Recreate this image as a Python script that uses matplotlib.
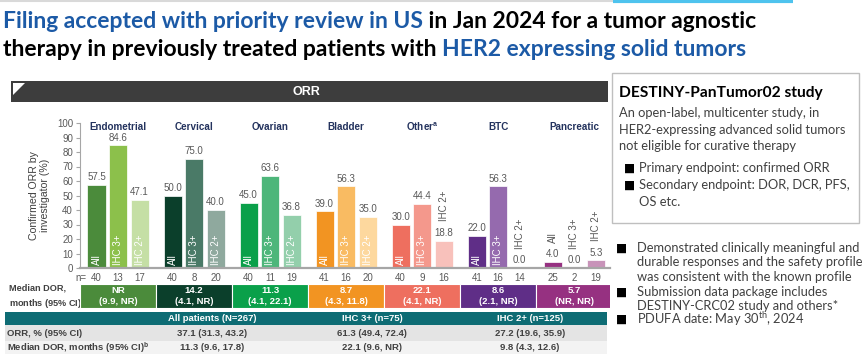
import matplotlib
matplotlib.use("Agg")
import matplotlib.pyplot as plt
from matplotlib.patches import Rectangle, Polygon

# ---------------- data ----------------
tumors = ["Endometrial", "Cervical", "Ovarian", "Bladder", r"Other$^{\mathregular{a}}$", "BTC", "Pancreatic"]
orr_all = [57.5, 50.0, 45.0, 39.0, 30.0, 22.0, 4.0]
orr_ihc3 = [84.6, 75.0, 63.6, 56.3, 44.4, 56.3, 0.0]
orr_ihc2 = [47.1, 40.0, 36.8, 35.0, 18.8, 0.0, 5.3]
n_all = [40, 40, 40, 41, 40, 41, 25]
n_ihc3 = [13, 8, 11, 16, 9, 16, 2]
n_ihc2 = [17, 20, 19, 20, 16, 14, 19]
subgroups = ["All", "IHC 3+", "IHC 2+"]
dor_median = ["NR", "14.2", "11.3", "8.7", "22.1", "8.6", "5.7"]
dor_ci = ["(9.9, NR)", "(4.1, NR)", "(4.1, 22.1)", "(4.3, 11.8)", "(4.1, NR)", "(2.1, NR)", "(NR, NR)"]
yticks = [0, 10, 20, 30, 40, 50, 60, 70, 80, 90, 100]

table_cols = ["All patients (N=267)", "IHC 3+ (n=75)", "IHC 2+ (n=125)"]
table_rows = ["ORR, % (95% CI)", r"Median DOR, months (95% CI)$^{\mathregular{b}}$"]
table_orr = ["37.1 (31.3, 43.2)", "61.3 (49.4, 72.4)", "27.2 (19.6, 35.9)"]
table_dor = ["11.3 (9.6, 17.8)", "22.1 (9.6, NR)", "9.8 (4.3, 12.6)"]

colors_all = ["#4b8b3b", "#0b3f2b", "#0aa04a", "#f29422", "#ee6f5f", "#5f2e87", "#963181"]
colors_ihc3 = ["#8cc04b", "#4a7a67", "#4db67a", "#f9bb62", "#f4988c", "#956aae", "#b870a6"]
colors_ihc2 = ["#c5dfa5", "#8fa99e", "#93cfab", "#fdd89e", "#f8c1bb", "#c9b3d6", "#c893b9"]

W, H = 865, 354
fig = plt.figure(figsize=(W / 100, H / 100), dpi=100)

def fx(x):
    return x / W

def fy(y):
    return 1 - y / H

# overlay axes in pixel coords
ov = fig.add_axes([0, 0, 1, 1])
ov.set_xlim(0, W)
ov.set_ylim(H, 0)
ov.axis("off")
ov.patch.set_alpha(0)

# top line
ov.plot([0, 613], [0.8, 0.8], color="#d9d9d9", lw=1.5, solid_capstyle="butt")
ov.plot([613, 793], [0.8, 0.8], color="#4ec3ee", lw=3, solid_capstyle="butt")

# title with colored segments, sized to fit the reference width
BLUE = "#1c5aa6"
title_lines = [
    [("Filing accepted with priority review in US", BLUE), (" in Jan 2024 for a tumor agnostic", "black")],
    [("therapy in previously treated patients with ", "black"), ("HER2 expressing solid tumors", BLUE)],
]
fig.canvas.draw()
renderer = fig.canvas.get_renderer()
probe = ov.text(0, 0, "".join(s for s, _ in title_lines[0]), fontsize=14, fontweight="bold",
                family="Lato")
pw = probe.get_window_extent(renderer=renderer).width
probe.remove()
tsize = 14 * 759 / pw
for segs, ybase in zip(title_lines, [28, 56]):
    x = 3
    for txt, col in segs:
        t = ov.text(x, ybase, txt, color=col, fontsize=tsize, fontweight="bold",
                    family="Lato", va="baseline", ha="left")
        bb = t.get_window_extent(renderer=renderer)
        x += bb.width

# ORR header bar
ov.add_patch(Rectangle((11, 81), 597, 21, color="#3d3d3d", lw=0))
ov.add_patch(Polygon([(13, 83), (25, 83), (13, 95)], closed=True, color="white", lw=0))
ov.text(306, 92, "ORR", color="white", fontsize=9, fontweight="bold",
        family="Liberation Sans", ha="center", va="center")

# ---------------- main bar chart ----------------
ax = fig.add_axes([fx(80), fy(268), fx(530), 145 / H])
ax.set_xlim(-0.5, 6.47)
ax.set_ylim(0, 100)
off = 0.283
bw = 0.237
GRAY = "#595959"
FONT = "Liberation Sans"
FS = 7
for i in range(len(tumors)):
    vals = [orr_all[i], orr_ihc3[i], orr_ihc2[i]]
    cols = [colors_all[i], colors_ihc3[i], colors_ihc2[i]]
    for j, (v, c) in enumerate(zip(vals, cols)):
        xc = i + (j - 1) * off
        ax.bar(xc, v, width=bw, color=c, edgecolor="white", linewidth=0.5)
        ax.annotate(f"{v:.1f}", (xc, v), xytext=(0, 2), textcoords="offset points",
                    ha="center", va="bottom", fontsize=FS, color=GRAY, family=FONT)
        if v >= 20:
            ax.annotate(subgroups[j], (xc, 0), xytext=(0, 2), textcoords="offset points",
                        ha="center", va="bottom", rotation=90, fontsize=FS,
                        color="white", family=FONT)
        else:
            ax.annotate(subgroups[j], (xc, v), xytext=(0, 14), textcoords="offset points",
                        ha="center", va="bottom", rotation=90, fontsize=FS,
                        color=GRAY, family=FONT)
    ax.text(i, 97.2, tumors[i], ha="center", va="center", fontsize=7.1,
            fontweight="bold", color="#24335e", family=FONT)

ax.set_yticks(yticks)
ax.set_yticklabels([str(t) for t in yticks], fontsize=FS, color=GRAY, family=FONT)
ax.set_xticks([])
for s in ["top", "right"]:
    ax.spines[s].set_visible(False)
ax.spines["left"].set_color("#a6a6a6")
ax.spines["left"].set_linewidth(0.8)
ax.spines["bottom"].set_color("#a6a6a6")
ax.spines["bottom"].set_linewidth(1.6)
ax.tick_params(axis="y", length=3, width=0.8, color="#a6a6a6", pad=2)
ax.patch.set_alpha(0)
ax.set_ylabel("Confirmed ORR by\ninvestigator (%)", fontsize=7.6, color="#404040",
              family=FONT, labelpad=5, linespacing=1.1)

# n= row
for i in range(len(tumors)):
    for j, nv in enumerate([n_all[i], n_ihc3[i], n_ihc2[i]]):
        xc = i + (j - 1) * off
        ax.annotate(str(nv), (xc, 0), xytext=(0, -7.5), textcoords="offset points",
                    ha="center", va="center", fontsize=FS, color=GRAY, family=FONT,
                    annotation_clip=False)
ax.annotate("n=", (-off, 0), xytext=(-7, -7.5), textcoords="offset points",
            ha="right", va="center", fontsize=FS, color=GRAY, family=FONT,
            annotation_clip=False)

# ---------------- DOR row ----------------
dax = fig.add_axes([fx(80), fy(308), fx(530), 24 / H])
dax.set_xlim(-0.5, 6.47)
dax.set_ylim(0, 1)
dax.axis("off")
xs = list(range(len(tumors)))
dax.bar(xs, [1] * len(xs), width=1.0, bottom=0, color=colors_all,
        edgecolor="white", linewidth=0.8, align="center")
for i in xs:
    dax.text(i, 0.5, dor_median[i] + "\n" + dor_ci[i], ha="center", va="center",
             fontsize=6.8, color="white", fontweight="bold", family=FONT, linespacing=1.25)
ov.text(9, 297, "Median DOR,\n" + r"months (95% CI)$^{\mathregular{b}}$", ha="left", va="center",
        fontsize=6.6, color="#404040", fontweight="bold", family=FONT, linespacing=1.35)

# ---------------- summary table ----------------
col_x = [212, 372, 530]
ov.add_patch(Rectangle((5, 312), 602, 13, color="#0e6c74", lw=0))
ov.add_patch(Rectangle((5, 325), 602, 16, color="#e4e4e4", lw=0))
ov.add_patch(Rectangle((5, 341), 602, 13, color="#f3f3f3", lw=0))
for cx, ct in zip(col_x, table_cols):
    ov.text(cx, 318.5, ct, ha="center", va="center", fontsize=6.8, color="white",
            fontweight="bold", family=FONT)
for ry, rl, rv in zip([333, 348], table_rows, [table_orr, table_dor]):
    ov.text(7, ry, rl, ha="left", va="center", fontsize=6.8, color="#404040",
            fontweight="bold", family=FONT)
    for cx, v in zip(col_x, rv):
        ov.text(cx, ry, v, ha="center", va="center", fontsize=6.8, color="#404040",
                fontweight="bold", family=FONT)

# ---------------- right panel ----------------
ov.add_patch(Rectangle((612, 73), 247, 150, fill=False, edgecolor="#bfbfbf", lw=1))
ov.text(619, 97, "DESTINY-PanTumor02 study", ha="left", va="baseline", fontsize=11.2,
        fontweight="bold", color="black", family="Lato")
body = ["An open-label, multicenter study, in",
        "HER2-expressing advanced solid tumors",
        "not eligible for curative therapy"]
for k, line in enumerate(body):
    ov.text(619, 113 + 16.5 * k, line, ha="left", va="center", fontsize=9.3,
            color="#404040", family="Lato")

def bullet(xb, xt, y, lines, step):
    ov.text(xb, y, "\u25a0", ha="left", va="center", fontsize=8.5, color="black",
            family="DejaVu Sans")
    for k, line in enumerate(lines):
        ov.text(xt, y + step * k, line, ha="left", va="center", fontsize=9.3,
                color="#404040", family="Lato")

bullet(624, 639, 168, ["Primary endpoint: confirmed ORR"], 17)
bullet(624, 639, 185, ["Secondary endpoint: DOR, DCR, PFS,", "OS etc."], 17)
bullet(616, 637, 248, ["Demonstrated clinically meaningful and",
                       "durable responses and the safety profile",
                       "was consistent with the known profile"], 14.5)
bullet(616, 637, 292, ["Submission data package includes",
                       "DESTINY-CRC02 study and others*"], 13.5)
bullet(616, 637, 319, [r"PDUFA date: May 30$^{\mathregular{th}}$, 2024"], 14)

fig.savefig("out.png", dpi=100)
